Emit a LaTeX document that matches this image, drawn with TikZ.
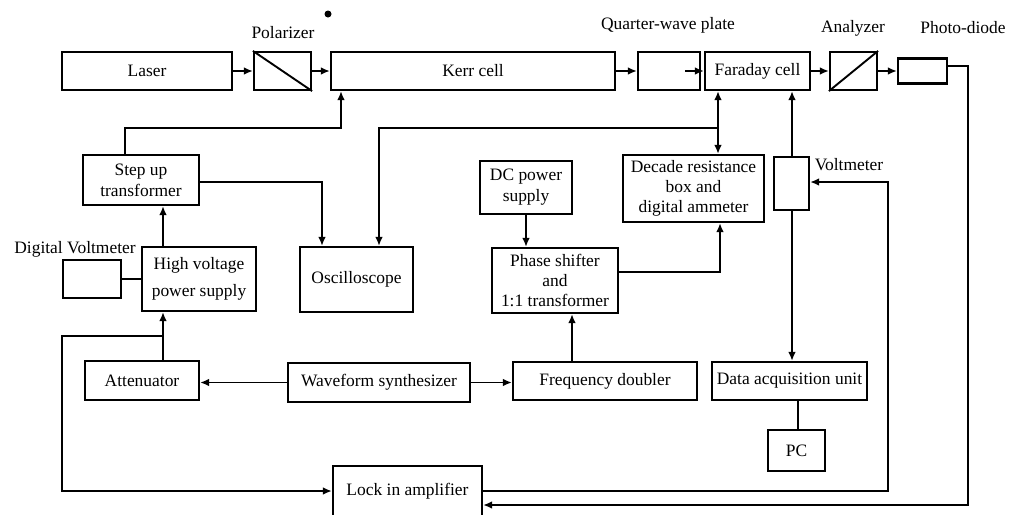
\documentclass[tikz,border=0pt]{standalone}
\usepackage{fontspec}
\setmainfont{Liberation Serif}
\usetikzlibrary{arrows.meta}
\begin{document}
\begin{tikzpicture}[x=0.025cm, y=-0.025cm, >={Latex[length=6.5pt,width=5.5pt]},
    font=\fontsize{12.4}{15}\selectfont, line width=1.35pt,
    blk/.style={draw, rectangle, align=center, inner sep=1pt, line width=1.5pt}]
  \useasboundingbox (0,0) rectangle (1010,514);
  % optical line
  \node[blk, minimum width=4.25cm, minimum height=0.95cm] at (147,71) (laser) {Laser};
  \node[blk, minimum width=1.425cm, minimum height=0.95cm] at (282.5,71) (pol) {};
  \node[blk, minimum width=7.1cm, minimum height=0.95cm] at (473,71) (kerr) {Kerr cell};
  \node[blk, minimum width=1.55cm, minimum height=0.95cm] at (669,71) (qwp) {};
  \node[blk, minimum width=2.625cm, minimum height=0.95cm] at (757.5,71) (faraday) {Faraday cell};
  \node[blk, minimum width=1.175cm, minimum height=0.95cm] at (853.5,71) (ana) {};
  \node[blk, minimum width=1.225cm, minimum height=0.625cm] at (922.5,71) (pd) {};
  \draw (pol.north west) -- (pol.south east);
  \draw (ana.south west) -- (ana.north east);
  \node at (283,33) (pollabel) {Polarizer};
  \node at (668,25) (qwplabel) {Quarter-wave plate};
  \node at (853,28) (analabel) {Analyzer};
  \node at (963,28) (pdlabel) {Photo-diode};
  \fill (328,14) circle (3.5);
  \draw[->] (laser) -- (pol);
  \draw[->] (pol) -- (kerr);
  \draw[->] (kerr) -- (qwp);
  \draw[->] (685,0 |- qwp) -- (faraday);
  \draw[->] (faraday) -- (ana);
  \draw[->] (ana) -- (pd);
  % high voltage side
  \node[blk, minimum width=2.9cm, minimum height=1.25cm] at (141,180) (stepup) {Step up\\transformer};
  \node[blk, minimum width=2.85cm, minimum height=1.6cm, font=\fontsize{12.4}{19}\selectfont] at (199,279) (hv) {High voltage\\power supply};
  \node[blk, minimum width=1.45cm, minimum height=0.95cm] at (92,279) (dv) {};
  \node at (75,249) (dvlabel) {Digital Voltmeter};
  \node[blk, minimum width=2.825cm, minimum height=1.625cm] at (356.5,279.5) (osc) {Oscilloscope};
  \node[blk, minimum width=2.85cm, minimum height=0.975cm] at (142,380.5) (att) {Attenuator};
  \node[blk, minimum width=4.55cm, minimum height=0.975cm] at (379,382.5) (wave) {Waveform synthesizer};
  \node[blk, minimum width=3.725cm, minimum height=1.25cm] at (407.5,491) (lock) {Lock in amplifier};
  % phase and current side
  \node[blk, minimum width=2.3cm, minimum height=1.325cm] at (526,187.5) (dc) {DC power\\supply};
  \node[blk, minimum width=3.15cm, minimum height=1.625cm, font=\fontsize{12.4}{14.5}\selectfont] at (555,280.5) (phase) {Phase shifter\\and\\1:1 transformer};
  \node[blk, minimum width=3.525cm, minimum height=1.675cm, font=\fontsize{12.4}{14}\selectfont] at (693.5,188.5) (decade) {Decade resistance\\box and\\digital ammeter};
  \node[blk, minimum width=4.6cm, minimum height=0.95cm] at (605,381) (freq) {Frequency doubler};
  \node[blk, minimum width=0.875cm, minimum height=1.325cm] at (791.5,183.5) (volt) {};
  \node at (849,165) (voltlabel) {Voltmeter};
  \node[blk, minimum width=3.875cm, minimum height=0.95cm] at (789.5,381) (daq) {Data acquisition unit};
  \node[blk, minimum width=1.425cm, minimum height=1.025cm] at (796.5,450.5) (pc) {PC};
  % connections
  \draw[->] (125,0 |- stepup.north) |- (341,128) -- (341,0 |- kerr.south);
  \draw[->] (stepup.east |- 0,182) -| (322,0 |- osc.north);
  \draw[<->] (718,0 |- faraday.south) -- (718,0 |- decade.north);
  \coordinate (fdtap) at (718,128);
  \draw[->] (fdtap) -| (379,0 |- osc.north);
  \draw[->] (792,0 |- volt.north) -- (792,0 |- faraday.south);
  \draw[->] (792,0 |- volt.south) -- (792,0 |- daq.north);
  \draw (798,0 |- daq.south) -- (798,0 |- pc.north);
  \draw[->] (lock.east) -| (888,182) -- (volt.east |- 888,182);
  \draw[->] (pd.east |- 0,66) -| (968,505) -- (lock.east |- 968,505);
  \draw[->] (526,0 |- dc.south) -- (526,0 |- phase.north);
  \draw[->] (phase.east |- 0,272) -| (720,0 |- decade.south);
  \draw[->] (572,0 |- freq.north) -- (572,0 |- phase.south);
  \draw[->] (wave.west) -- (wave.west -| att.east);
  \draw[->] (wave.east) -- (wave.east -| freq.west);
  \draw[->] (163,0 |- att.north) -- (163,0 |- hv.south);
  \coordinate (atttap) at (163,336);
  \draw[->] (atttap) -| (62,0 |- lock.west) -- (lock.west);
  \draw[->] (163,0 |- hv.north) -- (163,0 |- stepup.south);
  \draw (dv) -- (hv);
\end{tikzpicture}
\end{document}
